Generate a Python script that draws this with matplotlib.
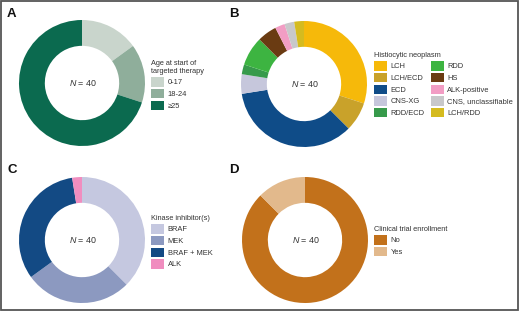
import matplotlib.pyplot as plt
from matplotlib.patches import Rectangle

plt.rcParams['font.family'] = ['Liberation Sans', 'DejaVu Sans']
plt.rcParams['mathtext.fontset'] = 'custom'
plt.rcParams['mathtext.it'] = 'Liberation Sans:italic'
plt.rcParams['mathtext.rm'] = 'Liberation Sans'

# Panel A: age at start of targeted therapy
age_labels = ['0-17', '18-24', '≥25']
age_counts = [6, 6, 28]
age_colors = ['#c9d5cc', '#8fae9b', '#0b6a4f']

# Panel B: histiocytic neoplasm
neo_labels = ['LCH', 'LCH/ECD', 'ECD', 'CNS-XG', 'RDD/ECD',
              'RDD', 'HS', 'ALK-positive', 'CNS, unclassifiable', 'LCH/RDD']
neo_counts = [12, 3, 14, 2, 1, 3, 2, 1, 1, 1]
neo_colors = ['#f6b90a', '#c9a22a', '#0f4c88', '#c6c7dc', '#379a4b',
              '#3db441', '#6a3b12', '#f29dc4', '#c8c8ca', '#d5bb1f']

# Panel C: kinase inhibitor(s)
kin_labels = ['BRAF', 'MEK', 'BRAF + MEK', 'ALK']
kin_counts = [15, 11, 13, 1]
kin_colors = ['#c5c8e0', '#8c99c0', '#134a84', '#f08dbf']

# Panel D: clinical trial enrollment
trial_labels = ['No', 'Yes']
trial_counts = [35, 5]
trial_colors = ['#c2711b', '#e2b98c']

W, H = 520, 311
fig = plt.figure(figsize=(W / 100, H / 100), dpi=100)
txt = '#333333'


def donut(cx, cy, counts, colors, labels, title, leg_xy, ncol=1, letter='', letter_xy=(0, 0)):
    r = 63
    ax = fig.add_axes([(cx - r) / W, (H - cy - r) / H, 2 * r / W, 2 * r / H])
    wedges, _ = ax.pie(counts, colors=colors, startangle=90, counterclock=False,
                       radius=1, wedgeprops=dict(width=0.41, linewidth=0))
    ax.set_xlim(-1, 1)
    ax.set_ylim(-1, 1)
    ax.set_aspect('equal')
    ax.text(0.02, 0, r'$\it{N}$ = 40', ha='center', va='center', fontsize=6.4, color=txt)
    fig.legend(wedges, labels, title=title, loc='upper left',
               bbox_to_anchor=(leg_xy[0] / W, 1 - leg_xy[1] / H),
               ncol=ncol, frameon=False, fontsize=5.4, title_fontsize=5.3,
               alignment='left', handlelength=1.75, handleheight=1.57,
               handletextpad=0.45, labelspacing=0.29, borderpad=0,
               borderaxespad=0, columnspacing=0.8, labelcolor=txt)
    fig.text(letter_xy[0] / W, 1 - letter_xy[1] / H, letter, fontsize=9.5,
             fontweight='bold', ha='left', va='center', color='#111111')


donut(82, 83, age_counts, age_colors, age_labels,
      'Age at start of\ntargeted therapy', (151, 60), letter='A', letter_xy=(7, 14))
donut(304, 84, neo_counts, neo_colors, neo_labels,
      'Histiocytic neoplasm', (374, 52), ncol=2, letter='B', letter_xy=(229, 14))
donut(82, 240, kin_counts, kin_colors, kin_labels,
      'Kinase inhibitor(s)', (151, 215), letter='C', letter_xy=(7, 170))
donut(305, 240, trial_counts, trial_colors, trial_labels,
      'Clinical trial enrollment', (374, 226), letter='D', letter_xy=(229, 170))

for t in fig.legends:
    t.get_title().set_color(txt)

fig.patches.append(Rectangle((0.002, 0.004), 0.995, 0.993, transform=fig.transFigure,
                             fill=False, edgecolor='#555555', linewidth=1.3))

fig.savefig('out.png', dpi=100)
